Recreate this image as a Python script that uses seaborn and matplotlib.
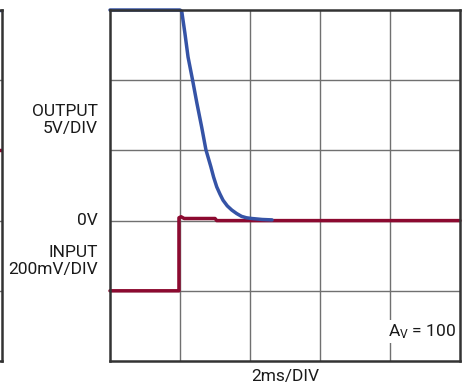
import numpy as np
import pandas as pd
import matplotlib
matplotlib.use('Agg')
import matplotlib.pyplot as plt
import seaborn as sns

# Scope capture: 2ms/DIV, output 5V/DIV, input 200mV/DIV, 0V on the 3rd line from top
out_t_ms = [0.0, 2.0, 2.05, 2.14, 2.23, 2.36, 2.48, 2.62, 2.74, 2.88, 2.96, 3.05, 3.14, 3.23,
            3.35, 3.48, 3.62, 3.76, 3.9, 4.05, 4.35, 4.63]
out_volts = [15.0, 15.0, 14.9, 13.35, 11.65, 10.0, 8.4, 6.65, 5.05, 3.85, 3.1, 2.4, 1.9, 1.45,
             1.05, 0.75, 0.5, 0.3, 0.2, 0.15, 0.08, 0.05]

in_t_ms = [0.0, 1.97, 1.97, 2.03, 2.12, 3.0, 3.05, 10.0]
in_mv = [-200.0, -200.0, 8.0, 11.0, 6.0, 6.0, 0.0, 0.0]

ZERO_DIV = 2.0
OUT_V_PER_DIV = 5.0
IN_MV_PER_DIV = 200.0
MS_PER_DIV = 2.0

out_df = pd.DataFrame({'t': out_t_ms, 'div': [ZERO_DIV + v / OUT_V_PER_DIV for v in out_volts]})
in_df = pd.DataFrame({'t': in_t_ms, 'div': [ZERO_DIV + v / IN_MV_PER_DIV for v in in_mv]})

sns.set_style('white')
plt.rcParams['font.family'] = ['Roboto', 'DejaVu Sans']

W, H = 471, 389
fig = plt.figure(figsize=(W / 100, H / 100), dpi=100)

blue = '#3553a6'
red = '#8c0a30'
grid_c = '#707070'
frame_c = '#333333'

def px_axes(x0, y0, x1, y1):
    return fig.add_axes([x0 / W, 1 - y1 / H, (x1 - x0) / W, (y1 - y0) / H])

def scope_frame(ax):
    ax.set_xlim(0, 5 * MS_PER_DIV)
    ax.set_ylim(0, 5)
    ax.set_xticks([MS_PER_DIV * i for i in range(1, 5)])
    ax.set_yticks([1, 2, 3, 4])
    ax.tick_params(length=0, labelbottom=False, labelleft=False)
    ax.grid(True, color=grid_c, linewidth=1.0)
    for s in ax.spines.values():
        s.set_visible(True)
        s.set_color(frame_c)
        s.set_linewidth(1.8)
    ax.set_xlabel('')
    ax.set_ylabel('')

# partial neighbouring panel at the far left (only its right edge shows)
axl = px_axes(-348, 10, 2, 361)
scope_frame(axl)
axl.axhline(3.0, color=red, linewidth=2.5)
axl.axhline(5.0, color=blue, linewidth=2.5)

ax = px_axes(110, 10, 460, 361)
scope_frame(ax)
sns.lineplot(data=in_df, x='t', y='div', ax=ax, color=red, linewidth=2.5, sort=False,
             estimator=None, clip_on=False)
sns.lineplot(data=out_df, x='t', y='div', ax=ax, color=blue, linewidth=2.5, sort=False,
             estimator=None, clip_on=False)
ax.set_xlabel('')
ax.set_ylabel('')

fs = 12.5
tc = '#1a1a1a'
fig.text(98 / W, 1 - 120 / H, 'OUTPUT\n5V/DIV', ha='right', va='center', fontsize=fs,
         linespacing=1.2, color=tc)
fig.text(98 / W, 1 - 221 / H, '0V', ha='right', va='center', fontsize=fs, color=tc)
fig.text(98 / W, 1 - 261 / H, 'INPUT\n200mV/DIV', ha='right', va='center', fontsize=fs,
         linespacing=1.2, color=tc)
fig.text(285 / W, 1 - 377 / H, '2ms/DIV', ha='center', va='center', fontsize=fs, color=tc)
ax.text(0.988, 0.085, '$\\mathregular{A_V}$ = 100', transform=ax.transAxes, ha='right',
        va='center', fontsize=fs, color=tc,
        bbox=dict(facecolor='white', edgecolor='none', pad=1.5))

fig.savefig('out.png', dpi=100)
